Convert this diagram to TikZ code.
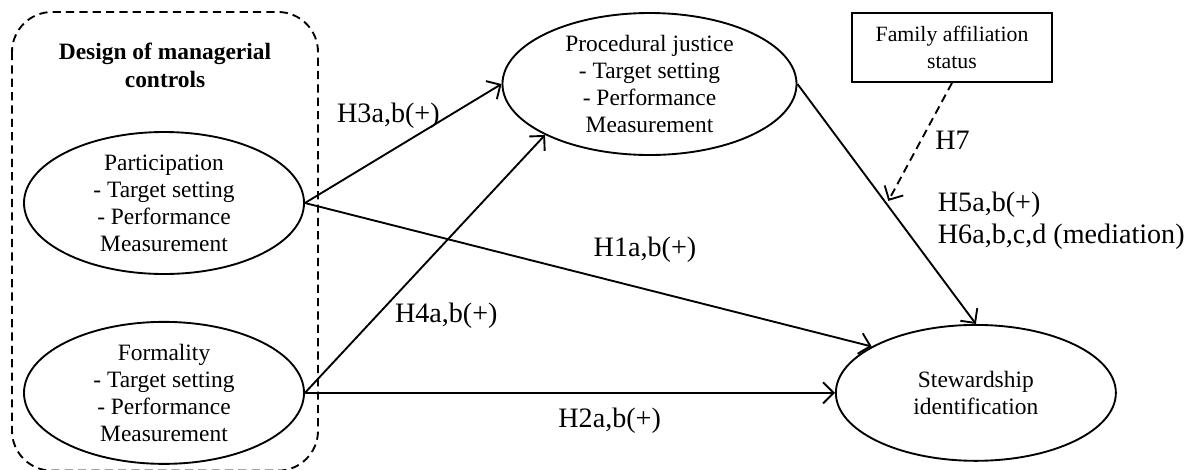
\documentclass[tikz,border=0pt]{standalone}
\usepackage{fontspec}
\setmainfont{Liberation Serif}
\usetikzlibrary{positioning, shapes.geometric, arrows.meta}

\begin{document}
\begin{tikzpicture}[
    >={Straight Barb[length=4.5pt, width=9pt]},
    construct/.style={draw, ellipse, line width=0.8pt, align=center, inner xsep=0pt, inner ysep=-1pt, font=\fontsize{10}{11.5}\selectfont},
    hyp/.style={font=\fontsize{12}{14}\selectfont},
    link/.style={->, line width=0.8pt},
    dashlink/.style={->, line width=0.8pt, dash pattern=on 3.5pt off 2.2pt}
]
    \useasboundingbox (0,0) rectangle (17.835,-7.035);

    % Managerial controls
    \draw[line width=0.8pt, dash pattern=on 3.5pt off 2.2pt, rounded corners=0.6cm] (0.18,-0.18) rectangle (4.77,-7.06);
    \node[font=\bfseries\fontsize{10}{12}\selectfont, align=center] (design) at (2.475,-0.975) {Design of managerial\\controls};
    \node[construct, minimum width=119.5pt, minimum height=60.6pt] (part) at (2.46,-3.045) {Participation\\- Target setting\\- Performance\\Measurement};
    \node[construct, minimum width=119.5pt, minimum height=60.6pt, below=0.69cm of part] (form) {Formality\\- Target setting\\- Performance\\Measurement};

    % Mediator, outcome and moderator
    \node[construct, minimum width=125.5pt, minimum height=60.6pt] (pj) at (9.7425,-1.26) {Procedural justice\\- Target setting\\- Performance\\Measurement};
    \node[construct, minimum width=119.5pt, minimum height=58pt, right=7.95cm of form] (sw) {Stewardship\\identification};
    \node[draw, line width=0.8pt, minimum width=85.4pt, minimum height=29.4pt, align=center, font=\fontsize{9.3}{11.3}\selectfont] (fam) at (14.28,-0.7125) {Family affiliation\\status};

    % Arrows
    \draw[link] (part.east) -- node[hyp, pos=0.73, left] {H3a,b(+)} (pj.west);
    \draw[link] (part.east) -- node[hyp, pos=0.6, above=0.27cm] {H1a,b(+)} (sw.156);
    \draw[link] (form.east) -- node[hyp, pos=0.3, right=0.14cm] {H4a,b(+)} (pj.206);
    \draw[link] (form.east) -- node[hyp, pos=0.575, below=0.09cm] {H2a,b(+)} (sw.west);
    \draw[link] (pj.east) -- coordinate[pos=0.5] (mod) node[hyp, pos=0.57, right=0.45cm, align=left] {H5a,b(+)\\H6a,b,c,d (mediation)} (sw.north);
    \draw[dashlink, shorten >=1.5pt] (fam.south) -- node[hyp, pos=0.47, right=0.08cm] {H7} (mod);
\end{tikzpicture}
\end{document}
